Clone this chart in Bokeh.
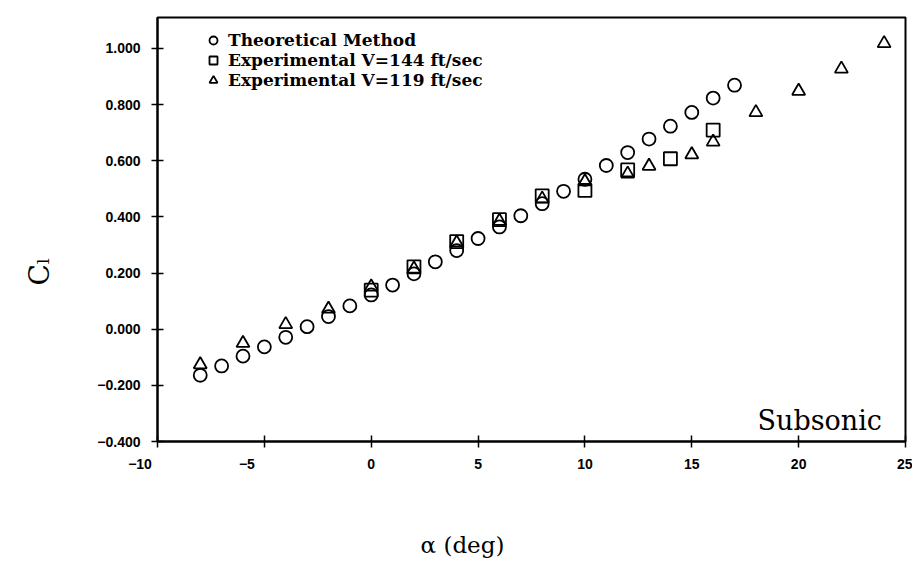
from bokeh.plotting import figure
from bokeh.models import Range1d, FixedTicker, Label, Legend, LegendItem
from bokeh.embed import file_html
from bokeh.resources import INLINE

# ---- data ----
theo_alpha = [-8, -7, -6, -5, -4, -3, -2, -1, 0, 1, 2, 3, 4, 5, 6, 7, 8, 9, 10, 11, 12, 13, 14, 15, 16, 17]
theo_cl = [-0.164, -0.131, -0.096, -0.063, -0.029, 0.009, 0.045, 0.083, 0.122, 0.157, 0.197, 0.240,
           0.280, 0.323, 0.364, 0.404, 0.447, 0.491, 0.534, 0.583, 0.629, 0.677, 0.723, 0.772, 0.823, 0.869]

exp144_alpha = [0, 2, 4, 6, 8, 10, 12, 14, 16]
exp144_cl = [0.139, 0.222, 0.312, 0.390, 0.475, 0.494, 0.567, 0.607, 0.709]

exp119_alpha = [-8, -6, -4, -2, 0, 2, 4, 6, 8, 10, 12, 13, 15, 16, 18, 20, 22, 24]
exp119_cl = [-0.126, -0.050, 0.017, 0.072, 0.151, 0.215, 0.308, 0.385, 0.464, 0.526, 0.553, 0.581,
             0.622, 0.667, 0.772, 0.848, 0.927, 1.018]

x_ticks = [-10, -5, 0, 5, 10, 15, 20, 25]
x_tick_labels = ["\u221210", "\u22125", "0", "5", "10", "15", "20", "25"]
y_ticks = [-0.4, -0.2, 0.0, 0.2, 0.4, 0.6, 0.8, 1.0]
y_tick_labels = ["\u22120.400", "\u22120.200", "0.000", "0.200", "0.400", "0.600", "0.800", "1.000"]

series_labels = ["Theoretical Method", "Experimental V=144 ft/sec", "Experimental V=119 ft/sec"]
x_title = "\u03b1 (deg)"
y_title = "C\u2097"
note_text = "Subsonic"

EM = "\u2003"
EN = "\u2002"

# ---- figure ----
p = figure(width=912, height=567, output_backend="svg", toolbar_location=None,
           x_range=Range1d(-10, 25), y_range=Range1d(-0.4, 1.11),
           min_border_left=157, min_border_right=7, min_border_top=17, min_border_bottom=126)
p.background_fill_color = "white"
p.border_fill_color = "white"
p.xgrid.visible = False
p.ygrid.visible = False
p.outline_line_color = "black"
p.outline_line_width = 2

for ax in (p.xaxis[0], p.yaxis[0]):
    ax.axis_line_width = 2
    ax.axis_line_color = "black"
    ax.major_tick_in = 6
    ax.major_tick_out = 6
    ax.major_tick_line_width = 1.5
    ax.minor_tick_in = 0
    ax.minor_tick_out = 0
    ax.major_label_text_font = "Liberation Sans"
    ax.major_label_text_font_style = "bold"
    ax.major_label_text_font_size = "14px"
    ax.major_label_text_color = "black"
    ax.axis_label_text_font = "DejaVu Serif"
    ax.axis_label_text_font_style = "normal"
    ax.axis_label_text_color = "black"

p.xaxis.ticker = FixedTicker(ticks=x_ticks)
p.xaxis.major_label_overrides = {t: (lab + EN * 5 if t < 0 else lab) for t, lab in zip(x_ticks, x_tick_labels)}
p.xaxis.major_label_standoff = 8
p.xaxis.axis_label = x_title + EM * 6
p.xaxis.axis_label_text_font_size = "23px"
p.xaxis.axis_label_standoff = 57

p.yaxis.ticker = FixedTicker(ticks=y_ticks)
p.yaxis.major_label_overrides = dict(zip(y_ticks, y_tick_labels))
p.yaxis.major_label_standoff = 11
p.yaxis.axis_label = y_title + EM * 3
p.yaxis.axis_label_text_font_size = "28px"
p.yaxis.axis_label_standoff = 38

r1 = p.scatter(theo_alpha, theo_cl, marker="circle", size=13, fill_color=None,
               line_color="black", line_width=1.8)
r2 = p.scatter(exp144_alpha, exp144_cl, marker="square", size=13, fill_color=None,
               line_color="black", line_width=1.8)
r3 = p.scatter(exp119_alpha, exp119_cl, marker="triangle", size=13, fill_color=None,
               line_color="black", line_width=1.8)

legend = Legend(items=[LegendItem(label=series_labels[0], renderers=[r1]),
                       LegendItem(label=series_labels[1], renderers=[r2]),
                       LegendItem(label=series_labels[2], renderers=[r3])],
                location=(46, 351), margin=0, padding=0, spacing=0,
                glyph_width=20, glyph_height=20, label_height=20, label_standoff=5,
                border_line_color=None, background_fill_alpha=0,
                label_text_font="DejaVu Serif", label_text_font_style="bold",
                label_text_font_size="17px", label_text_baseline="middle",
                label_text_color="black")
p.add_layout(legend)

p.add_layout(Label(x=23.9, y=-0.325, text=note_text, text_align="right", text_baseline="middle",
                   text_font="DejaVu Serif", text_font_size="27px", text_color="black"))

open("out.html", "w").write(file_html(p, INLINE))
